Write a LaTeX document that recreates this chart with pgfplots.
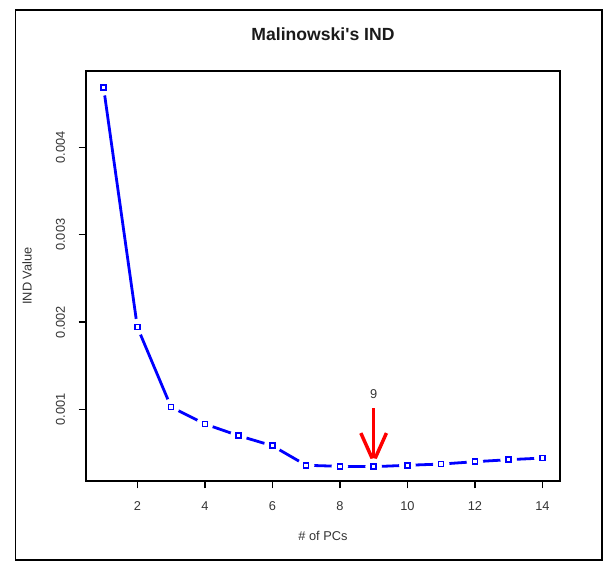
\documentclass[border=0pt]{standalone}
\usepackage{fontspec}
\setmainfont{Liberation Sans}
\usepackage{pgfplots}
\pgfplotsset{compat=1.18}
\definecolor{txt}{HTML}{333333}
\definecolor{ttl}{HTML}{1A1A1A}
\definecolor{ln}{HTML}{0000FF}
\definecolor{arr}{HTML}{FF0000}

\pgfplotstableread{
pc ind
1 0.004688
2 0.001943
3 0.001026
4 0.000832
5 0.000698
6 0.000583
7 0.000359
8 0.000347
9 0.000343
10 0.000359
11 0.000373
12 0.000400
13 0.000423
14 0.000442
}\indtab

\begin{document}
\begin{tikzpicture}
\begin{axis}[
  name=ax, scale only axis, width=355.5pt, height=307.5pt,
  xmin=0.48, xmax=14.52, ymin=0.000179, ymax=0.004875,
  xtick={2,4,...,14}, ytick={0.001,0.002,0.003,0.004},
  yticklabels={0.001,0.002,0.003,0.004}, scaled y ticks=false,
  xtick pos=lower, ytick pos=lower, xtick align=outside, ytick align=outside,
  major tick length=5.5pt,
  tick style={color=black, line width=1pt},
  axis line style={black, line width=0.9pt},
  /pgf/number format/assume math mode=true,
  x tick label style={font=\fontsize{9.6}{11}\selectfont, text=txt, anchor=north, inner sep=0pt, yshift=-10pt},
  y tick label style={font=\fontsize{9.6}{11}\selectfont, text=txt, rotate=90, anchor=south, inner sep=0pt, yshift=10pt},
  title={\textbf{Malinowski\textquotesingle s IND}},
  title style={font=\fontsize{13.2}{15}\selectfont, text=ttl, at={(axis description cs:0.5,1.0707)}, anchor=center},
  xlabel={\# of PCs},
  xlabel style={font=\fontsize{9.6}{11}\selectfont, text=txt, at={(axis description cs:0.5,-0.1342)}, anchor=center},
  ylabel={IND Value},
  ylabel style={font=\fontsize{9.6}{11}\selectfont, text=txt, at={(axis description cs:-0.1245,0.5)}, anchor=center},
]
\addplot[ln, line width=2.1pt] table[x=pc, y=ind] {\indtab};
\addplot[white, only marks, mark=*, mark size=6pt, mark options={draw=white, fill=white}] table[x=pc, y=ind] {\indtab};
\addplot[ln, only marks, mark=square, mark size=1.9pt, mark options={draw=ln, line width=1.2pt}] table[x=pc, y=ind] {\indtab};
% marker for the chosen number of PCs
\draw[arr, line width=2.6pt] (axis cs:9,0.001011) -- (axis cs:9,0.00040);
\draw[arr, line width=2.6pt, line join=miter] ([shift={(-9.6pt,21.5pt)}]axis cs:9,0.00040) -- (axis cs:9,0.00040) -- ([shift={(9.6pt,21.5pt)}]axis cs:9,0.00040);
\node[text=txt, font=\fontsize{9.6}{11}\selectfont] at (axis cs:9,0.00117) {9};
\end{axis}
\draw[black, line width=1.1pt] ([shift={(-52.8pt,-59.25pt)}]ax.south west) rectangle ([shift={(31.5pt,45.75pt)}]ax.north east);
\path ([shift={(-64.5pt,-64.5pt)}]ax.south west) rectangle ([shift={(36pt,53.25pt)}]ax.north east);
\end{tikzpicture}
\end{document}
